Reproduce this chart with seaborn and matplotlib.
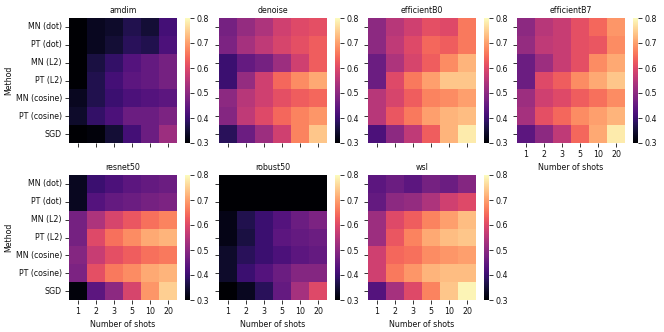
import matplotlib
matplotlib.use("Agg")
import matplotlib.pyplot as plt
import numpy as np
import pandas as pd
import seaborn as sns

methods = ["MN (dot)", "PT (dot)", "MN (L2)", "PT (L2)", "MN (cosine)", "PT (cosine)", "SGD"]
shots = ["1", "2", "3", "5", "10", "20"]

amdim = [
    [0.30, 0.33, 0.34, 0.37, 0.35, 0.41],
    [0.30, 0.33, 0.35, 0.38, 0.37, 0.42],
    [0.30, 0.36, 0.39, 0.43, 0.45, 0.47],
    [0.30, 0.37, 0.41, 0.44, 0.45, 0.47],
    [0.33, 0.37, 0.40, 0.42, 0.43, 0.44],
    [0.34, 0.39, 0.42, 0.46, 0.46, 0.48],
    [0.30, 0.31, 0.35, 0.41, 0.46, 0.52],
]
denoise = [
    [0.47, 0.51, 0.54, 0.58, 0.60, 0.61],
    [0.48, 0.53, 0.56, 0.59, 0.61, 0.63],
    [0.40, 0.45, 0.47, 0.52, 0.58, 0.63],
    [0.40, 0.51, 0.58, 0.64, 0.68, 0.71],
    [0.50, 0.55, 0.58, 0.61, 0.63, 0.64],
    [0.49, 0.56, 0.60, 0.64, 0.67, 0.69],
    [0.38, 0.46, 0.52, 0.58, 0.67, 0.74],
]
efficientB0 = [
    [0.50, 0.55, 0.58, 0.61, 0.60, 0.66],
    [0.50, 0.56, 0.60, 0.64, 0.63, 0.66],
    [0.46, 0.54, 0.59, 0.63, 0.68, 0.72],
    [0.46, 0.60, 0.66, 0.70, 0.74, 0.74],
    [0.55, 0.59, 0.63, 0.67, 0.68, 0.70],
    [0.55, 0.62, 0.66, 0.70, 0.72, 0.73],
    [0.42, 0.50, 0.56, 0.63, 0.72, 0.78],
]
efficientB7 = [
    [0.50, 0.55, 0.57, 0.61, 0.64, 0.69],
    [0.51, 0.56, 0.57, 0.61, 0.62, 0.68],
    [0.46, 0.52, 0.57, 0.61, 0.68, 0.71],
    [0.46, 0.60, 0.63, 0.68, 0.71, 0.74],
    [0.52, 0.58, 0.60, 0.63, 0.65, 0.68],
    [0.53, 0.61, 0.64, 0.68, 0.70, 0.72],
    [0.44, 0.50, 0.56, 0.64, 0.71, 0.78],
]
resnet50 = [
    [0.33, 0.40, 0.42, 0.44, 0.45, 0.46],
    [0.33, 0.43, 0.45, 0.46, 0.47, 0.48],
    [0.47, 0.54, 0.59, 0.62, 0.65, 0.67],
    [0.47, 0.60, 0.65, 0.68, 0.71, 0.72],
    [0.49, 0.57, 0.61, 0.63, 0.65, 0.66],
    [0.48, 0.61, 0.66, 0.68, 0.71, 0.72],
    [0.31, 0.44, 0.50, 0.59, 0.69, 0.75],
]
robust50 = [
    [0.29, 0.29, 0.29, 0.29, 0.29, 0.29],
    [0.29, 0.29, 0.29, 0.29, 0.29, 0.29],
    [0.32, 0.37, 0.40, 0.43, 0.46, 0.48],
    [0.32, 0.36, 0.40, 0.44, 0.45, 0.46],
    [0.34, 0.38, 0.40, 0.42, 0.44, 0.45],
    [0.34, 0.40, 0.43, 0.46, 0.49, 0.49],
    [0.30, 0.33, 0.38, 0.45, 0.53, 0.60],
]
wsl = [
    [0.44, 0.46, 0.44, 0.47, 0.46, 0.49],
    [0.45, 0.50, 0.51, 0.54, 0.58, 0.60],
    [0.52, 0.60, 0.63, 0.67, 0.70, 0.73],
    [0.52, 0.62, 0.67, 0.71, 0.73, 0.74],
    [0.58, 0.64, 0.65, 0.68, 0.69, 0.70],
    [0.58, 0.66, 0.69, 0.72, 0.73, 0.73],
    [0.43, 0.53, 0.60, 0.67, 0.74, 0.79],
]

panels = [
    ("amdim", amdim), ("denoise", denoise), ("efficientB0", efficientB0),
    ("efficientB7", efficientB7), ("resnet50", resnet50), ("robust50", robust50),
    ("wsl", wsl),
]

sns.set_theme(style="white")
plt.rcParams["font.family"] = ["DejaVu Sans"]
plt.rcParams["text.color"] = "#111111"
plt.rcParams["axes.labelcolor"] = "#111111"
plt.rcParams["xtick.color"] = "#111111"
plt.rcParams["ytick.color"] = "#111111"
FS = 5.7

W, H = 664, 332
fig = plt.figure(figsize=(W / 100, H / 100), dpi=100)

lefts = [69, 219, 368, 517]
rows = [(18, 143), (175, 300)]
hm_w = 108

for i, (name, vals) in enumerate(panels):
    r, c = divmod(i, 4)
    top, bot = rows[r]
    x0 = lefts[c]
    ax = fig.add_axes([x0 / W, (H - bot) / H, hm_w / W, (bot - top) / H])
    cax = fig.add_axes([(x0 + 116) / W, (H - bot) / H, 5 / W, (bot - top) / H])
    df = pd.DataFrame(vals, index=methods, columns=shots)
    sns.heatmap(df, ax=ax, cbar_ax=cax, cmap="magma", vmin=0.3, vmax=0.8,
                cbar_kws={"ticks": [0.3, 0.4, 0.5, 0.6, 0.7, 0.8]})
    ax.set_title(name, fontsize=FS, pad=3.5)
    ax.tick_params(axis="both", length=2.6, width=0.7, labelsize=FS, color="#333333",
                   bottom=True, left=True, pad=2.5)
    ax.set_ylabel("")
    ax.set_xlabel("")
    if c == 0:
        ax.set_yticklabels(methods, rotation=0, fontsize=FS)
        ax.set_ylabel("Method", fontsize=FS, labelpad=1.5)
    else:
        ax.set_yticklabels([])
    if r == 1 or c == 3:
        ax.set_xticklabels(shots, rotation=0, fontsize=FS)
        ax.set_xlabel("Number of shots", fontsize=FS, labelpad=3)
    else:
        ax.set_xticklabels([])
    cax.tick_params(labelsize=FS, length=2.6, width=0.7, color="#333333", right=True, pad=2)
    cax.set_yticklabels(["0.3", "0.4", "0.5", "0.6", "0.7", "0.8"])

fig.savefig("out.png", dpi=100)
